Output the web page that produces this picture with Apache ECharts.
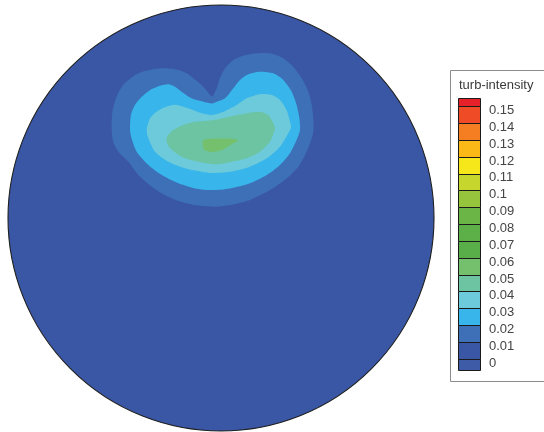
<!DOCTYPE html>
<html>
<head>
<meta charset="utf-8">
<script src="https://cdn.jsdelivr.net/npm/echarts@6/dist/echarts.min.js"></script>
<style>
  html, body { margin: 0; padding: 0; background: #fff; }
  #chart { width: 544px; height: 432px; }
</style>
</head>
<body>
<div id="chart"></div>
<script>
// Colour bands of the turbulence-intensity scale (low edge, high edge, colour)
const bandLow  = [-0.0063, 0.00, 0.01, 0.02, 0.03, 0.04, 0.05, 0.06, 0.07, 0.08, 0.09, 0.10, 0.11, 0.12, 0.13, 0.14, 0.15];
const bandHigh = [0.00, 0.01, 0.02, 0.03, 0.04, 0.05, 0.06, 0.07, 0.08, 0.09, 0.10, 0.11, 0.12, 0.13, 0.14, 0.15, 0.1546];
const bandColor = [
  '#3e5ba8', '#3a57a6', '#3d70b7', '#38b5ea', '#6ccadb', '#6cc4a3', '#74c06c', '#5aae49',
  '#5cb047', '#6bb546', '#97c43d', '#c6d62d', '#f6e71a', '#fbb918', '#f47e21', '#ef4b27', '#e62129'
];
// Labelled levels on the colour bar
const levelTicks = [0, 0.01, 0.02, 0.03, 0.04, 0.05, 0.06, 0.07, 0.08, 0.09, 0.10, 0.11, 0.12, 0.13, 0.14, 0.15];

// Pipe cross-section (normalised radius units): centre x, centre y, radius, level
const pipeSection = [[0, 0, 1, 0]];

// Contour regions in the cross-section, each enclosing values >= its level
const contourLevels = [0.01, 0.02, 0.03, 0.04, 0.05];
const contour001 = [
  [-0.513, 0.413], [-0.510, 0.498], [-0.490, 0.569], [-0.459, 0.624], [-0.404, 0.671], [-0.357, 0.690],
  [-0.310, 0.700], [-0.263, 0.703], [-0.200, 0.695], [-0.161, 0.679], [-0.130, 0.656], [-0.091, 0.624],
  [-0.066, 0.596], [-0.042, 0.570], [-0.020, 0.609], [-0.005, 0.656], [0.019, 0.703], [0.058, 0.742],
  [0.105, 0.762], [0.168, 0.773], [0.230, 0.773], [0.292, 0.750], [0.339, 0.710], [0.379, 0.656],
  [0.410, 0.593], [0.426, 0.531], [0.433, 0.468], [0.434, 0.413], [0.426, 0.374], [0.402, 0.311],
  [0.363, 0.241], [0.308, 0.186], [0.230, 0.131], [0.136, 0.085], [0.042, 0.061], [-0.028, 0.053],
  [-0.122, 0.061], [-0.200, 0.080], [-0.263, 0.108], [-0.325, 0.147], [-0.388, 0.202], [-0.435, 0.264],
  [-0.482, 0.311], [-0.506, 0.358]
];
const contour002 = [
  [-0.427, 0.413], [-0.423, 0.484], [-0.404, 0.531], [-0.372, 0.569], [-0.333, 0.601], [-0.286, 0.621],
  [-0.247, 0.628], [-0.216, 0.616], [-0.185, 0.593], [-0.138, 0.562], [-0.083, 0.546], [-0.042, 0.538],
  [-0.020, 0.546], [0.019, 0.562], [0.058, 0.609], [0.089, 0.648], [0.128, 0.675], [0.183, 0.687],
  [0.246, 0.679], [0.292, 0.648], [0.332, 0.593], [0.355, 0.531], [0.368, 0.468], [0.371, 0.413],
  [0.355, 0.366], [0.324, 0.304], [0.277, 0.249], [0.215, 0.202], [0.136, 0.163], [0.042, 0.139],
  [-0.042, 0.131], [-0.122, 0.139], [-0.200, 0.163], [-0.278, 0.202], [-0.341, 0.249], [-0.396, 0.311],
  [-0.420, 0.374]
];
const contour003 = [
  [-0.349, 0.413], [-0.333, 0.468], [-0.302, 0.499], [-0.255, 0.523], [-0.208, 0.531], [-0.154, 0.515],
  [-0.091, 0.492], [-0.042, 0.484], [0.011, 0.499], [0.074, 0.531], [0.121, 0.562], [0.183, 0.581],
  [0.238, 0.577], [0.277, 0.554], [0.308, 0.507], [0.324, 0.452], [0.329, 0.427], [0.316, 0.398],
  [0.277, 0.335], [0.215, 0.280], [0.136, 0.241], [0.042, 0.217], [-0.042, 0.211], [-0.091, 0.217],
  [-0.169, 0.233], [-0.247, 0.264], [-0.310, 0.311], [-0.341, 0.374]
];
const contour004 = [
  [-0.254, 0.380], [-0.224, 0.413], [-0.177, 0.437], [-0.122, 0.452], [-0.075, 0.455], [-0.028, 0.460],
  [0.042, 0.476], [0.121, 0.492], [0.183, 0.499], [0.222, 0.484], [0.246, 0.445], [0.254, 0.423],
  [0.249, 0.405], [0.230, 0.358], [0.183, 0.311], [0.121, 0.280], [0.042, 0.262], [-0.028, 0.252],
  [-0.107, 0.264], [-0.185, 0.288], [-0.239, 0.327], [-0.255, 0.357]
];
const contour005 = [
  [-0.082, 0.366], [-0.028, 0.373], [0.033, 0.373], [0.080, 0.366], [0.052, 0.347], [0.005, 0.319],
  [-0.038, 0.310], [-0.075, 0.317], [-0.085, 0.338]
];
const contourShapes = [contour001, contour002, contour003, contour004, contour005];

const FONT = '"Liberation Sans", Arial, sans-serif';

function colorForLevel(level) {
  for (let i = 0; i < bandLow.length; i++) {
    if (level >= bandLow[i] - 1e-9 && level < bandHigh[i] - 1e-9) return bandColor[i];
  }
  return bandColor[bandColor.length - 1];
}

const chart = echarts.init(document.getElementById('chart'), null, { renderer: 'canvas' });

const option = {
  animation: false,
  backgroundColor: '#ffffff',
  title: {
    text: 'turb-intensity',
    left: 454,
    top: 74,
    textStyle: { fontFamily: FONT, fontSize: 13, fontWeight: 'normal', color: '#3a3a3a' }
  },
  graphic: [{
    type: 'rect',
    z: -10,
    shape: { x: 450.5, y: 70.5, width: 120, height: 311 },
    style: { fill: '#ffffff', stroke: '#8c8c8c', lineWidth: 1 }
  }],
  grid: [
    { left: 8, top: 5, width: 426, height: 426 },
    { left: 458, top: 98.3, width: 22, height: 271 }
  ],
  xAxis: [
    { type: 'value', gridIndex: 0, min: -1, max: 1, show: false },
    { type: 'value', gridIndex: 1, min: 0, max: 1, show: false }
  ],
  yAxis: [
    { type: 'value', gridIndex: 0, min: -1, max: 1, show: false },
    {
      type: 'value', gridIndex: 1, min: bandLow[0], max: bandHigh[bandHigh.length - 1],
      position: 'right',
      axisLine: { show: false }, axisTick: { show: false }, splitLine: { show: false },
      axisLabel: {
        customValues: levelTicks,
        margin: 9,
        fontFamily: FONT, fontSize: 13, color: '#444444',
        verticalAlign: 'top',
        lineHeight: 9,
        formatter: v => String(Math.round(v * 100) / 100)
      }
    }
  ],
  series: [
    {
      // pipe wall and the lowest band filling the section
      type: 'custom',
      xAxisIndex: 0, yAxisIndex: 0,
      data: pipeSection,
      renderItem: (params, api) => {
        const c = api.coord([api.value(0), api.value(1)]);
        const r = api.size([api.value(2), 0])[0];
        return {
          type: 'circle',
          shape: { cx: c[0], cy: c[1], r: r },
          style: { fill: colorForLevel(api.value(3)), stroke: '#1e1e1e', lineWidth: 1.1 }
        };
      }
    },
    {
      // filled contour regions
      type: 'custom',
      xAxisIndex: 0, yAxisIndex: 0,
      data: contourLevels.map(lv => [0, 0, lv]),
      renderItem: (params, api) => {
        const pts = contourShapes[params.dataIndex].map(p => api.coord(p));
        return {
          type: 'polygon',
          shape: { points: pts, smooth: 0.25 },
          style: { fill: colorForLevel(api.value(2)) }
        };
      }
    },
    {
      // colour bar swatches
      type: 'custom',
      xAxisIndex: 1, yAxisIndex: 1,
      data: bandLow.map((lo, i) => [lo, bandHigh[i], i]),
      renderItem: (params, api) => {
        const p1 = api.coord([0, api.value(1)]);
        const p2 = api.coord([1, api.value(0)]);
        return {
          type: 'rect',
          shape: { x: Math.round(p1[0]) + 0.5, y: Math.round(p1[1]) + 0.5,
                   width: Math.round(p2[0] - p1[0]), height: Math.round(p2[1] - p1[1]) },
          style: { fill: bandColor[api.value(2)], stroke: '#1a1a1a', lineWidth: 1 }
        };
      }
    }
  ]
};

chart.setOption(option);
</script>
</body>
</html>
